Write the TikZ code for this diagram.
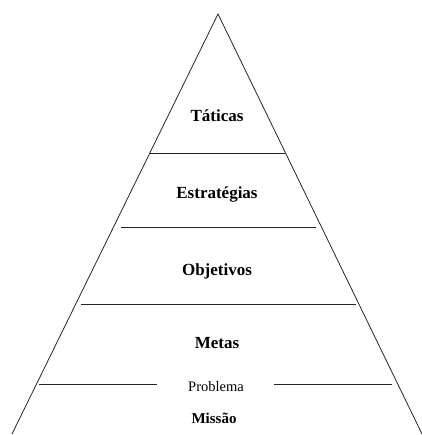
\documentclass[tikz,border=0pt]{standalone}
\usepackage{fontspec}
\setmainfont{Liberation Serif}
\begin{document}
\begin{tikzpicture}[x=1pt,y=-1pt,
  edge/.style={line width=0.8pt,draw=black!85},
  level/.style={font=\bfseries\fontsize{17}{17}\selectfont,anchor=base,inner sep=0pt},
  small/.style={font=\fontsize{14.5}{14.5}\selectfont,anchor=base,inner sep=0pt}]
\useasboundingbox (0,0) rectangle (421,435);
% pyramid outline
\coordinate (apex) at (218,14);
\coordinate (bl) at (12,434);
\coordinate (br) at (422,434);
\draw[edge] (bl) -- (apex) -- (br);
% dividing lines
\coordinate (l1a) at (150,153); \coordinate (l1b) at (285,153);
\coordinate (l2a) at (121,227); \coordinate (l2b) at (316,227);
\coordinate (l3a) at (81,304);  \coordinate (l3b) at (356,304);
\coordinate (l4a) at (39,384);  \coordinate (l4b) at (157,384);
\coordinate (l5a) at (274,384); \coordinate (l5b) at (392,384);
\draw[edge] (l1a) -- (l1b);
\draw[edge] (l2a) -- (l2b);
\draw[edge] (l3a) -- (l3b);
\draw[edge] (l4a) -- (l4b);
\draw[edge] (l5a) -- (l5b);
% labels
\node[level] (taticas) at (217,122) {Táticas};
\node[level] (estrategias) at (217,199) {Estratégias};
\node[level] (objetivos) at (217,275) {Objetivos};
\node[level] (metas) at (217,348) {Metas};
\node[small] (problema) at (216,391) {Problema};
\node[level,font=\bfseries\fontsize{15}{15}\selectfont] (missao) at (214,423) {Missão};
\end{tikzpicture}
\end{document}
